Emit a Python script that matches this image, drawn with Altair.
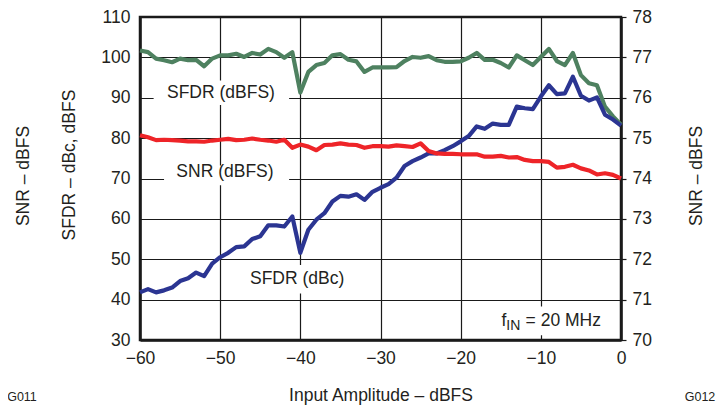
import altair as alt
import pandas as pd

# ---- data ----
x_db = list(range(-60, 1))

sfdr_dbfs = [101.7, 101.3, 99.7, 99.3, 98.8, 99.7, 99.3, 99.4, 97.8, 99.7,
             100.5, 100.5, 100.9, 100.1, 101.1, 100.7, 102.1, 101.3, 99.9, 101.3,
             91.3, 96.4, 98.1, 98.6, 100.5, 100.8, 99.4, 99.0, 96.4, 97.5,
             97.5, 97.5, 97.6, 99.1, 100.1, 99.9, 100.3, 99.3, 98.9, 98.9,
             99.0, 99.9, 101.1, 99.4, 99.4, 98.6, 97.5, 100.5, 99.3, 98.1,
             100.1, 102.1, 99.1, 98.1, 101.1, 95.6, 93.6, 93.1, 87.8, 85.4,
             83.3]

sfdr_dbc = [41.8, 42.6, 41.8, 42.3, 43.0, 44.6, 45.3, 46.7, 45.8, 48.9,
            50.5, 51.6, 53.0, 53.2, 55.0, 55.7, 58.4, 58.4, 58.1, 60.6,
            51.6, 57.3, 59.8, 61.4, 64.3, 65.7, 65.5, 66.1, 64.7, 66.7,
            67.7, 68.6, 70.2, 73.1, 74.3, 75.2, 76.2, 76.2, 77.0, 78.0,
            79.2, 80.5, 82.9, 82.3, 83.6, 83.3, 83.3, 87.8, 87.4, 87.2,
            90.3, 93.1, 90.9, 91.1, 95.2, 90.5, 89.3, 90.1, 85.8, 84.6,
            83.1]

snr_dbfs = [75.07, 75.02, 74.95, 74.96, 74.95, 74.94, 74.92, 74.92, 74.91, 74.94,
            74.96, 74.98, 74.95, 74.96, 74.99, 74.96, 74.94, 74.91, 74.96, 74.76,
            74.84, 74.79, 74.70, 74.83, 74.84, 74.87, 74.84, 74.83, 74.76, 74.80,
            74.80, 74.79, 74.82, 74.80, 74.78, 74.87, 74.68, 74.62, 74.61, 74.61,
            74.60, 74.60, 74.60, 74.54, 74.54, 74.56, 74.52, 74.53, 74.46, 74.43,
            74.43, 74.41, 74.27, 74.29, 74.34, 74.25, 74.20, 74.10, 74.13, 74.09,
            74.00]

series_names = ["SFDR (dBFS)", "SFDR (dBc)"]
series_colors = ["#4E8160", "#2B3592"]
snr_color = "#EE2428"

left_ticks = list(range(30, 111, 10))
right_ticks = list(range(70, 79))
x_ticks = list(range(-60, 1, 10))

# in-plot labels
ann_text = ["SFDR (dBFS)", "SNR (dBFS)", "SFDR (dBc)"]
ann_x = [-49.9, -49.4, -40.4]
ann_y = [91.3, 71.5, 45.1]
# white backgrounds behind labels (break the grid like the reference)
box_x = [-58.3, -57.0, -46.4, -15.0]
box_x2 = [-41.4, -41.4, -34.4, -1.9]
box_y = [88.2, 68.3, 41.5, 31.2]
box_y2 = [94.3, 73.2, 48.6, 38.3]

FONT = "Liberation Sans"
FS = 17.5
TXT = "#231F20"
AX = "#1a1a1a"

df_left = pd.DataFrame({
    "x": x_db * 2,
    "v": sfdr_dbfs + sfdr_dbc,
    "s": [series_names[0]] * len(x_db) + [series_names[1]] * len(x_db),
})
df_snr = pd.DataFrame({"x": x_db, "snr": snr_dbfs})
df_ann = pd.DataFrame({"x": ann_x, "v": ann_y, "t": ann_text})
df_box = pd.DataFrame({"x": box_x, "x2": box_x2, "v": box_y, "v2": box_y2})

xscale = alt.Scale(domain=[-60, 0], nice=False, zero=False)
yscale = alt.Scale(domain=[30, 110], nice=False, zero=False)

axis_font = dict(labelFont=FONT, labelFontSize=FS, labelColor=TXT,
                 titleFont=FONT, titleFontSize=FS, titleColor=TXT,
                 titleFontWeight="normal")

x_enc = alt.X("x:Q", scale=xscale,
              axis=alt.Axis(values=x_ticks, title="Input Amplitude – dBFS",
                            grid=True, gridColor=AX, gridWidth=1.2,
                            tickSize=0, labelPadding=9, titlePadding=20,
                            labelFlush=False,
                            domainColor=AX, domainWidth=2.5, **axis_font))
y_enc = alt.Y("v:Q", scale=yscale,
              axis=alt.Axis(values=left_ticks, title=None, grid=True,
                            gridColor=AX, gridWidth=1.2, tickSize=0,
                            labelPadding=10, domainColor=AX,
                            domainWidth=2.5, **axis_font))

boxes = alt.Chart(df_box).mark_rect(color="white").encode(
    x=x_enc, x2="x2:Q", y=y_enc, y2="v2:Q")

lines = alt.Chart(df_left).mark_line(strokeWidth=4.2, strokeJoin="round").encode(
    x="x:Q", y="v:Q",
    color=alt.Color("s:N", scale=alt.Scale(domain=series_names, range=series_colors),
                    legend=None),
    order="x:Q")

labels = alt.Chart(df_ann).mark_text(font=FONT, fontSize=FS, color=TXT,
                                     align="center", baseline="middle").encode(
    x="x:Q", y="v:Q", text="t:N")

fin_f = alt.Chart(pd.DataFrame({"x": [-14.9], "v": [33.4], "t": ["f"]})).mark_text(
    font=FONT, fontSize=FS, color=TXT, align="left", baseline="alphabetic").encode(
    x="x:Q", y="v:Q", text="t:N")
fin_in = alt.Chart(pd.DataFrame({"x": [-14.3], "v": [32.4], "t": ["IN"]})).mark_text(
    font=FONT, fontSize=14, color=TXT, align="left", baseline="alphabetic").encode(
    x="x:Q", y="v:Q", text="t:N")
fin_rest = alt.Chart(pd.DataFrame({"x": [-11.9], "v": [33.4], "t": ["= 20 MHz"]})).mark_text(
    font=FONT, fontSize=FS, color=TXT, align="left", baseline="alphabetic").encode(
    x="x:Q", y="v:Q", text="t:N")

# axis titles and figure codes placed outside the plot area
left_t1 = alt.Chart(pd.DataFrame({"t": ["SNR – dBFS"]})).mark_text(
    font=FONT, fontSize=FS, color=TXT, angle=270, align="center", baseline="middle").encode(
    x=alt.value(-116), y=alt.value(159), text="t:N")
left_t2 = alt.Chart(pd.DataFrame({"t": ["SFDR – dBc, dBFS"]})).mark_text(
    font=FONT, fontSize=FS, color=TXT, angle=270, align="center", baseline="middle").encode(
    x=alt.value(-70), y=alt.value(148), text="t:N")
right_t = alt.Chart(pd.DataFrame({"t": ["SNR – dBFS"]})).mark_text(
    font=FONT, fontSize=FS, color=TXT, angle=270, align="center", baseline="middle").encode(
    x=alt.value(557), y=alt.value(159), text="t:N")
g011 = alt.Chart(pd.DataFrame({"t": ["G011"]})).mark_text(
    font=FONT, fontSize=12.5, color=TXT, align="center", baseline="alphabetic").encode(
    x=alt.value(-118), y=alt.value(384), text="t:N")
g012 = alt.Chart(pd.DataFrame({"t": ["G012"]})).mark_text(
    font=FONT, fontSize=12.5, color=TXT, align="center", baseline="alphabetic").encode(
    x=alt.value(560), y=alt.value(384), text="t:N")

left_layer = alt.layer(boxes, lines, labels, fin_f, fin_in, fin_rest,
                       left_t1, left_t2, right_t, g011, g012)

snr_line = alt.Chart(df_snr).mark_line(strokeWidth=4.2, strokeJoin="round",
                                       color=snr_color).encode(
    x="x:Q",
    y=alt.Y("snr:Q", scale=alt.Scale(domain=[70, 78], nice=False, zero=False),
            axis=alt.Axis(orient="right", values=right_ticks, title=None,
                          grid=False, tickSize=5, tickColor=AX,
                          tickWidth=1.2, labelPadding=6,
                          domainColor=AX, domainWidth=2.5, **axis_font)),
    order="x:Q")

chart = alt.layer(left_layer, snr_line).resolve_scale(y="independent").properties(
    width=481, height=323,
    background="white",
    autosize=alt.AutoSizeParams(type="none"),
    padding={"left": 132, "top": 9, "right": 95, "bottom": 65},
).configure_view(
    stroke=AX, strokeWidth=2.5
)

chart.save("out.html", embed_options={"renderer": "svg", "actions": False})
